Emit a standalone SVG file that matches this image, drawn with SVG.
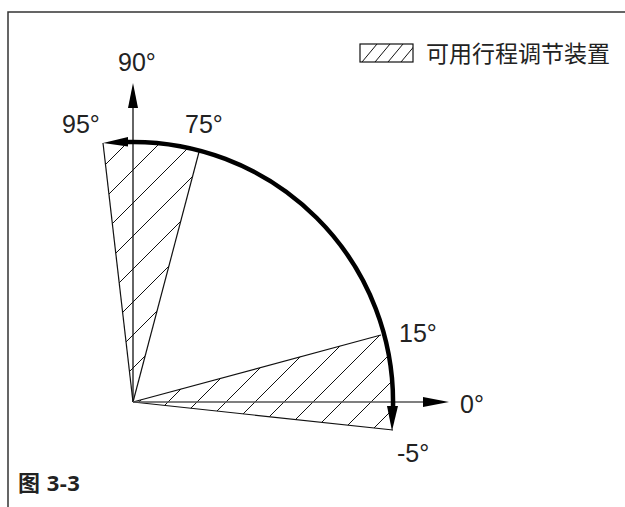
<svg xmlns="http://www.w3.org/2000/svg" width="625" height="507" viewBox="0 0 625 507">
<style>
.lbl{font-family:"Liberation Sans","DejaVu Sans",sans-serif;font-size:25px;fill:#222}
.thin{stroke:#111;stroke-width:1.2;fill:none}
.hl{stroke:#111;stroke-width:1}
</style>
<defs>
<pattern id="h1" patternUnits="userSpaceOnUse" width="33" height="33">
<line class="hl" x1="-1" y1="7" x2="7" y2="-1"/>
<line class="hl" x1="5" y1="34" x2="34" y2="5"/>
</pattern>
<pattern id="h2" patternUnits="userSpaceOnUse" width="29" height="29">
<line class="hl" x1="-1" y1="20" x2="20" y2="-1"/>
<line class="hl" x1="18" y1="30" x2="30" y2="18"/>
</pattern>
<clipPath id="legclip"><rect x="360" y="44" width="53" height="18"/></clipPath>
</defs>
<g id="frame">
<path d="M8,507 V12 H625" fill="none" stroke="#333" stroke-width="1.5"/>
</g>
<g id="legend">
<rect x="360" y="44" width="53" height="18" fill="none" stroke="#111" stroke-width="1.2"/>
<g clip-path="url(#legclip)">
<line class="hl" x1="362" y1="62" x2="377" y2="44"/>
<line class="hl" x1="375" y1="62" x2="390" y2="44"/>
<line class="hl" x1="388" y1="62" x2="403" y2="44"/>
<line class="hl" x1="401" y1="62" x2="416" y2="44"/>
</g>
<text x="426" y="62" font-family="'Noto Sans CJK SC',sans-serif" font-size="23" fill="#222">可用行程调节装置</text>
</g>
<g id="zone-top">
<polygon points="133,402 103,143 133,141.5 170,144 199,152" fill="url(#h1)"/>
<line class="thin" x1="133" y1="402" x2="103" y2="143"/>
<line class="thin" x1="133" y1="402" x2="199" y2="152"/>
</g>
<g id="zone-bottom">
<polygon points="133,402 381,335 388,360 392,390 393,430" fill="url(#h2)"/>
<line class="thin" x1="133" y1="402" x2="381" y2="335"/>
<line class="thin" x1="133" y1="402" x2="393" y2="430"/>
</g>
<g id="connectors">
<line x1="133" y1="402" x2="133" y2="106" stroke="#111" stroke-width="1.3"/>
<polygon points="133,83 128,108 138,108" fill="#000"/>
<line x1="133" y1="402" x2="425" y2="402" stroke="#555" stroke-width="1.3"/>
<polygon points="449,402 423,397 423,407" fill="#000"/>
<path d="M127,142 A260,260 0 0 1 393,407" fill="none" stroke="#000" stroke-width="4.5"/>
<polygon points="103,143 128,137 128,146.5" fill="#000"/>
<polygon points="392,431 387,406 398,406" fill="#000"/>
</g>
<g id="labels">
<text class="lbl" x="118" y="71">90°</text>
<text class="lbl" x="62" y="133">95°</text>
<text class="lbl" x="185" y="133">75°</text>
<text class="lbl" x="399" y="342">15°</text>
<text class="lbl" x="460" y="413">0°</text>
<text class="lbl" x="397" y="462">-5°</text>
</g>
<g id="caption">
<text x="18" y="491" font-family="'Open Sans','Noto Sans CJK SC',sans-serif" font-weight="bold" font-size="22" letter-spacing="0.5" fill="#222">图 3-3</text>
</g>
</svg>
